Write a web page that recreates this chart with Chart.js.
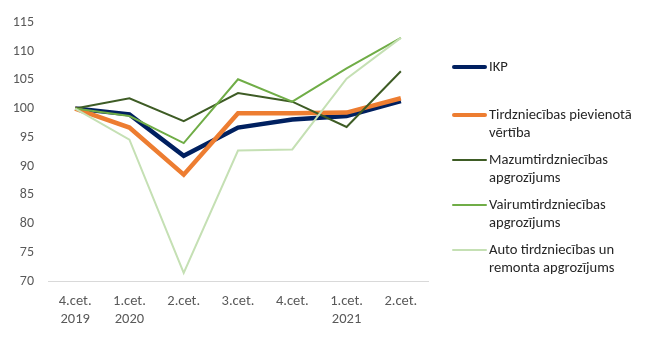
<!DOCTYPE html>
<html>
<head>
<meta charset="utf-8">
<script src="https://cdn.jsdelivr.net/npm/chart.js@4"></script>
<style>
  body { margin: 0; background: #fff; }
  #wrap { position: relative; width: 653px; height: 338px; }
  #legend { position: absolute; left: 452px; top: 0; font-family: Carlito, Calibri, "Open Sans", sans-serif; font-size: 14.6px; color: #262626; }
  .item { position: absolute; left: 0; white-space: nowrap; line-height: 17.5px; }
  .item span.ln { position: absolute; left: 0; width: 35px; border-radius: 2px; }
  .item span.tx { position: absolute; left: 37px; }
</style>
</head>
<body>
<div id="wrap">
  <canvas id="chart1" width="653" height="338"></canvas>
  <div id="legend"></div>
</div>
<script>
/* data */
const labels = [
    ['4.cet.', '2019'],
    ['1.cet.', '2020'],
    '2.cet.',
    '3.cet.',
    '4.cet.',
    ['1.cet.', '2021'],
    '2.cet.'
];
const ikp = [100, 99.0, 91.8, 96.7, 98.1, 98.7, 101.3];
const tirdzPievVert = [100, 96.7, 88.5, 99.2, 99.2, 99.3, 101.8];
const mazumtirdz = [100, 101.8, 97.8, 102.7, 101.2, 96.8, 106.5];
const vairumtirdz = [100, 98.7, 94.0, 105.1, 101.2, 107.0, 112.3];
const autoTirdz = [100, 94.6, 71.4, 92.7, 92.9, 105.2, 112.3];

const seriesNames = [
    'IKP',
    ['Tirdzniecības pievienotā', 'vērtība'],
    ['Mazumtirdzniecības', 'apgrozījums'],
    ['Vairumtirdzniecības', 'apgrozījums'],
    ['Auto tirdzniecības un', 'remonta apgrozījums']
];
const yTicks = [70, 75, 80, 85, 90, 95, 100, 105, 110, 115];

const styles = [
    { color: '#002060', width: 4.5 },
    { color: '#ED7D31', width: 4.5 },
    { color: '#3E5C25', width: 2 },
    { color: '#70AD47', width: 2 },
    { color: '#C5E0B4', width: 2 }
];
const seriesData = [ikp, tirdzPievVert, mazumtirdz, vairumtirdz, autoTirdz];

const datasets = seriesData.map((d, i) => ({
    label: seriesNames[i],
    data: d,
    borderColor: styles[i].color,
    backgroundColor: styles[i].color,
    borderWidth: styles[i].width,
    pointRadius: 0,
    tension: 0,
    order: 5 - i
}));

const tickFont = 'Carlito, Calibri, "Open Sans", sans-serif';

const chart1 = new Chart(document.getElementById('chart1'), {
    type: 'line',
    data: { labels: labels, datasets: datasets },
    options: {
        responsive: false,
        animation: false,
        layout: { padding: { top: 17, right: 225, left: 0, bottom: 0 } },
        plugins: {
            legend: { display: false },
            tooltip: { enabled: false }
        },
        scales: {
            x: {
                offset: true,
                grid: { display: false, drawTicks: false },
                border: { display: true, color: '#D9D9D9', width: 1 },
                ticks: {
                    color: '#595959',
                    font: { family: tickFont, size: 14.5, lineHeight: 1.2 },
                    padding: 12,
                    maxRotation: 0,
                    autoSkip: false
                },
                afterFit: (scale) => { scale.height = 57; }
            },
            y: {
                min: 70,
                max: 115,
                afterBuildTicks: (scale) => { scale.ticks = yTicks.map(v => ({ value: v })); },
                grid: { display: false, drawTicks: false },
                border: { display: false },
                ticks: {
                    color: '#595959',
                    font: { family: tickFont, size: 14 },
                    padding: 14
                },
                afterFit: (scale) => { scale.width = 48; }
            }
        }
    }
});

/* legend */
const legendTops = [67, 115, 160, 205, 250];
const legendEl = document.getElementById('legend');
datasets.forEach((ds, i) => {
    const item = document.createElement('div');
    item.className = 'item';
    item.style.top = (legendTops[i] - 9) + 'px';
    const ln = document.createElement('span');
    ln.className = 'ln';
    ln.style.height = ds.borderWidth + 'px';
    ln.style.top = (9 - ds.borderWidth / 2) + 'px';
    ln.style.background = ds.borderColor;
    const tx = document.createElement('span');
    tx.className = 'tx';
    const lines = Array.isArray(ds.label) ? ds.label : [ds.label];
    tx.innerHTML = lines.join('<br>');
    item.appendChild(ln);
    item.appendChild(tx);
    legendEl.appendChild(item);
});
</script>
</body>
</html>
